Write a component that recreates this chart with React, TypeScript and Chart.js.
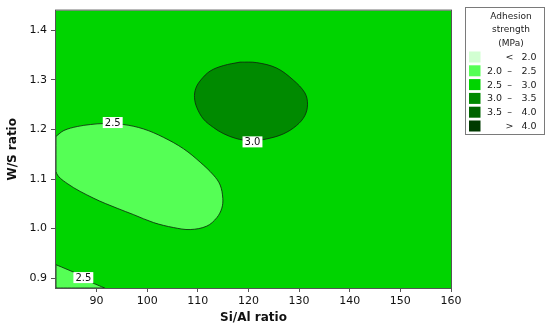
import { useEffect, useRef } from 'react';
import { Chart, registerables } from 'chart.js';

Chart.register(...registerables);

// Axes
const xTicks = [90, 100, 110, 120, 130, 140, 150, 160];
const yTicks = [0.9, 1.0, 1.1, 1.2, 1.3, 1.4];
const xRange = [82, 160];
const yRange = [0.88, 1.44];

// Contour levels (legend)
const levelColors = ['#d2ffd2', '#55ff55', '#00d400', '#008a00', '#006400', '#003a00'];
const legendLow = ['', '2.0', '2.5', '3.0', '3.5', ''];
const legendSym = ['<', '\u2013', '\u2013', '\u2013', '\u2013', '>'];
const legendHigh = ['2.0', '2.5', '3.0', '3.5', '4.0', '4.0'];
const legendTitle = ['Adhesion', 'strength', '(MPa)'];

// Region 2.0–2.5 (upper-left lobe)
const lobeX = [82, 83.56, 86.2, 88.8, 91.44, 95.37, 99.31, 103.25, 107.19, 110.47, 113.09, 114.41, 114.94, 114.74, 113.76, 111.79, 108.5, 105.22, 101.28, 97.34, 94.07, 89.47, 84.21, 82];
const lobeY = [1.186, 1.198, 1.206, 1.21, 1.212, 1.21, 1.201, 1.184, 1.161, 1.134, 1.108, 1.088, 1.061, 1.041, 1.022, 1.005, 0.998, 1.002, 1.012, 1.028, 1.041, 1.061, 1.091, 1.115];

// Region 2.0–2.5 (bottom-left corner)
const cornerX = [82, 85.5, 89.5, 91.6, 82];
const cornerY = [0.927, 0.912, 0.889, 0.88, 0.88];

// Region 3.0–3.5 (ellipse)
const peakX = [118.35, 121.63, 125.57, 128.84, 131.14, 131.67, 131.14, 129.51, 126.87, 123.6, 120.5, 117.5, 115.0, 113.09, 111.12, 109.82, 109.35, 109.6, 110.6, 112.44, 115.06];
const peakY = [1.336, 1.335, 1.324, 1.3, 1.274, 1.251, 1.228, 1.208, 1.191, 1.181, 1.177, 1.182, 1.192, 1.204, 1.221, 1.244, 1.264, 1.283, 1.3, 1.318, 1.329];

// Contour labels
const labelText = ['2.5', '3.0', '2.5'];
const labelX = [93.2, 120.8, 87.4];
const labelY = [1.214, 1.175, 0.901];

const FONT = '"DejaVu Sans", Verdana, sans-serif';

export default function App() {
  const ref = useRef<HTMLCanvasElement>(null);

  useEffect(() => {
    document.body.style.margin = '0';
    const canvas = ref.current;
    if (!canvas) return;

    const closed = (xs: number[], ys: number[]) =>
      xs.map((x, i) => ({ x, y: ys[i] })).concat([{ x: xs[0], y: ys[0] }]);

    const zone = (xs: number[], ys: number[], color: string, tension: number) => ({
      type: 'line' as const,
      data: closed(xs, ys),
      backgroundColor: color,
      borderColor: 'rgba(15,35,15,0.9)',
      borderWidth: 0.9,
      fill: 'shape',
      tension,
      pointRadius: 0,
      clip: 0,
    });

    const decor = {
      id: 'decor',
      beforeDatasetsDraw(chart: any) {
        const { ctx, chartArea: a } = chart;
        ctx.save();
        ctx.fillStyle = levelColors[2];
        ctx.fillRect(a.left, a.top, a.right - a.left, a.bottom - a.top);
        ctx.restore();
      },
      afterDatasetsDraw(chart: any) {
        const { ctx, chartArea: a, scales } = chart;
        ctx.save();
        ctx.font = `10px ${FONT}`;
        ctx.textAlign = 'center';
        ctx.textBaseline = 'middle';
        labelText.forEach((t, i) => {
          const px = scales.x.getPixelForValue(labelX[i]);
          const py = scales.y.getPixelForValue(labelY[i]);
          const w = ctx.measureText(t).width;
          ctx.fillStyle = '#ffffff';
          ctx.fillRect(px - w / 2 - 2, py - 5.5, w + 4, 11);
          ctx.fillStyle = '#111';
          ctx.fillText(t, px, py + 0.5);
        });
        ctx.strokeStyle = '#555';
        ctx.lineWidth = 1;
        ctx.strokeRect(a.left - 0.5, a.top - 0.5, a.right - a.left + 1, a.bottom - a.top + 1);
        ctx.restore();
      },
      afterDraw(chart: any) {
        const { ctx, chartArea: a } = chart;
        const L = a.right + 14;
        const T = 7;
        const W = 79;
        const H = 127;
        ctx.save();
        ctx.fillStyle = '#fff';
        ctx.fillRect(L, T, W, H);
        ctx.strokeStyle = '#7a7a7a';
        ctx.lineWidth = 1;
        ctx.strokeRect(L + 0.5, T + 0.5, W, H);
        ctx.fillStyle = '#222';
        ctx.textBaseline = 'middle';
        ctx.textAlign = 'center';
        ctx.font = `9px ${FONT}`;
        legendTitle.forEach((t, i) => ctx.fillText(t, L + 46, T + 9.5 + i * 13.5));
        ctx.font = `9.5px ${FONT}`;
        levelColors.forEach((c, i) => {
          const y = T + 50 + i * 13.8;
          ctx.fillStyle = c;
          ctx.fillRect(L + 4, y - 5.5, 11.5, 11);
          ctx.fillStyle = '#222';
          ctx.textAlign = 'right';
          if (legendLow[i]) ctx.fillText(legendLow[i], L + 37, y + 0.5);
          ctx.textAlign = 'center';
          ctx.fillText(legendSym[i], L + 44.5, y + 0.5);
          ctx.textAlign = 'right';
          ctx.fillText(legendHigh[i], L + 71.5, y + 0.5);
        });
        ctx.restore();
      },
    };

    const chart = new Chart(canvas, {
      type: 'line',
      data: {
        datasets: [
          zone(lobeX, lobeY, levelColors[1], 0.35),
          zone(cornerX, cornerY, levelColors[1], 0.001),
          zone(peakX, peakY, levelColors[3], 0.35),
        ] as any,
      },
      options: {
        animation: false,
        responsive: false,
        layout: { padding: { top: 7, right: 99, left: 0, bottom: 0 } },
        plugins: { legend: { display: false }, tooltip: { enabled: false } },
        scales: {
          x: {
            type: 'linear',
            min: xRange[0],
            max: xRange[1],
            afterBuildTicks: (ax: any) => {
              ax.ticks = xTicks.map((v) => ({ value: v }));
            },
            afterFit: (s: any) => {
              s.height = 41;
            },
            border: { display: false },
            grid: { drawOnChartArea: false, drawTicks: true, tickLength: 4, color: '#555' },
            ticks: {
              font: { family: FONT, size: 11 },
              color: '#111',
              padding: 3,
              maxRotation: 0,
              callback: (v: any) => String(v),
            },
            title: {
              display: true,
              text: 'Si/Al ratio',
              font: { family: FONT, size: 12, weight: 'bold' },
              color: '#111',
              padding: { top: 0, bottom: 4 },
            },
          },
          y: {
            type: 'linear',
            min: yRange[0],
            max: yRange[1],
            afterBuildTicks: (ax: any) => {
              ax.ticks = yTicks.map((v) => ({ value: v }));
            },
            afterFit: (s: any) => {
              s.width = 56;
            },
            border: { display: false },
            grid: { drawOnChartArea: false, drawTicks: true, tickLength: 5, color: '#555' },
            ticks: {
              font: { family: FONT, size: 11 },
              color: '#111',
              padding: 4,
              callback: (v: any) => Number(v).toFixed(1),
            },
            title: {
              display: true,
              text: 'W/S ratio',
              font: { family: FONT, size: 12, weight: 'bold' },
              color: '#111',
              padding: { top: 6, bottom: 0 },
            },
          },
        },
      },
      plugins: [decor],
    } as any);

    return () => chart.destroy();
  }, []);

  return (
    <div style={{ width: 550, height: 329 }}>
      <canvas ref={ref} width={550} height={329} style={{ display: 'block' }} />
    </div>
  );
}
